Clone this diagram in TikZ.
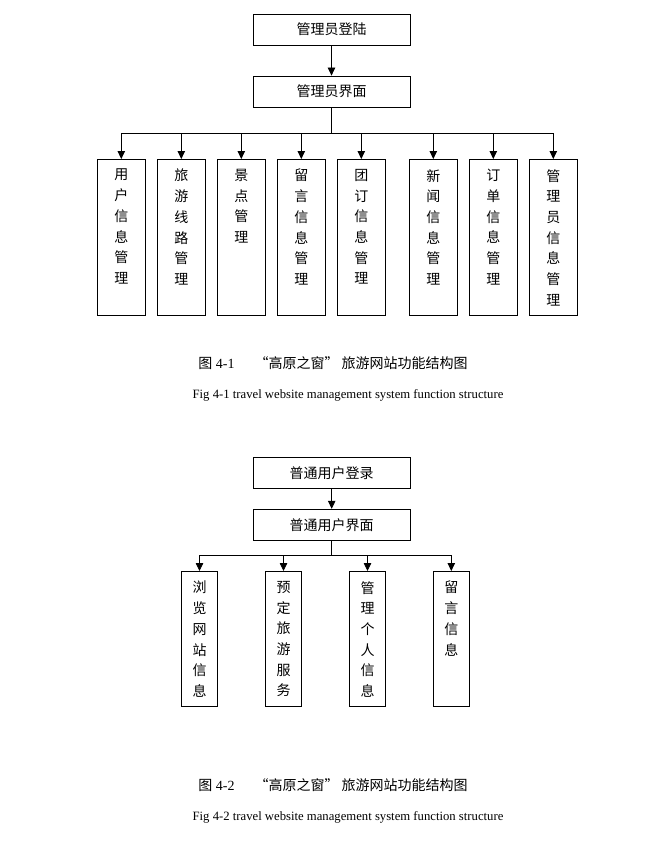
\documentclass[tikz,border=0pt]{standalone}
\usepackage{fontspec}
\setmainfont{Liberation Serif}
\newfontfamily\cjk{Noto Sans CJK SC}
\usetikzlibrary{arrows.meta}

\tikzset{
  topbox/.style={draw, line width=0.8pt, minimum width=157pt, minimum height=31pt, inner sep=0pt, font=\cjk\fontsize{14}{16}\selectfont},
  colbox/.style={draw, line width=0.8pt, minimum width=48pt, minimum height=156pt, anchor=north, inner sep=0pt},
  smallbox/.style={colbox, minimum width=36pt, minimum height=135pt},
  vtext/.style={anchor=north, align=center, inner sep=0pt, yshift=-10pt, font=\cjk\fontsize{14}{20.7}\selectfont},
  arr/.style={-{Triangle[width=7.5pt,length=8pt]}, line width=0.8pt},
  captext/.style={inner sep=0pt, font=\fontsize{14}{16}\selectfont},
  ecaptext/.style={inner sep=0pt, font=\fontsize{12.7}{14}\selectfont},
}

\begin{document}
\begin{tikzpicture}[x=1pt,y=-1pt]
\useasboundingbox (0,0) rectangle (666,848);

% 管理员
\node[topbox] (login) at (331.5,29.5) {管理员登陆};
\node[topbox] (admin) at (331.5,91.5) {管理员界面};
\draw[arr] (login) -- (admin);
\coordinate (bus1) at (331.5,133);

\node[colbox, label={[vtext]north:用\\户\\信\\息\\管\\理}] (yhgl) at (121.3,159) {};
\node[colbox, label={[vtext]north:旅\\游\\线\\路\\管\\理}] (lygl) at (181.3,159) {};
\node[colbox, label={[vtext]north:景\\点\\管\\理}] (jdgl) at (241.3,159) {};
\node[colbox, label={[vtext]north:留\\言\\信\\息\\管\\理}] (lygl2) at (301.3,159) {};
\node[colbox, label={[vtext]north:团\\订\\信\\息\\管\\理}] (tdgl) at (361.3,159) {};
\node[colbox, label={[vtext]north:新\\闻\\信\\息\\管\\理}] (xwgl) at (433.3,159) {};
\node[colbox, label={[vtext]north:订\\单\\信\\息\\管\\理}] (ddgl) at (493.3,159) {};
\node[colbox, label={[vtext]north:管\\理\\员\\信\\息\\管\\理}] (glygl) at (553.3,159) {};

\draw[line width=0.8pt] (admin) -- (bus1);
\draw[line width=0.8pt] (yhgl |- bus1) -- (glygl |- bus1);
\foreach \n in {yhgl,lygl,jdgl,lygl2,tdgl,xwgl,ddgl,glygl}
  \draw[arr] (\n |- bus1) -- (\n);

\node[captext] (cap1) at (333,362.7) {{\cjk 图} 4-1\hspace{20pt}{\cjk “高原之窗” 旅游网站功能结构图}};
\node[ecaptext] (ecap1) at (348,395) {Fig 4-1 travel website management system function structure};

% 普通用户
\node[topbox] (ulogin) at (331.7,472.8) {普通用户登录};
\node[topbox] (user) at (331.7,524.7) {普通用户界面};
\draw[arr] (ulogin) -- (user);
\coordinate (bus2) at (331.7,555);

\node[smallbox, label={[vtext]north:浏\\览\\网\\站\\信\\息}] (llwz) at (199.5,571) {};
\node[smallbox, label={[vtext]north:预\\定\\旅\\游\\服\\务}] (ydly) at (283.5,571) {};
\node[smallbox, label={[vtext]north:管\\理\\个\\人\\信\\息}] (glgr) at (367.5,571) {};
\node[smallbox, label={[vtext]north:留\\言\\信\\息}] (lyxx) at (451.3,571) {};

\draw[line width=0.8pt] (user) -- (bus2);
\draw[line width=0.8pt] (llwz |- bus2) -- (lyxx |- bus2);
\foreach \n in {llwz,ydly,glgr,lyxx}
  \draw[arr] (\n |- bus2) -- (\n);

\node[captext] (cap2) at (333,785) {{\cjk 图} 4-2\hspace{20pt}{\cjk “高原之窗” 旅游网站功能结构图}};
\node[ecaptext] (ecap2) at (348,817) {Fig 4-2 travel website management system function structure};
\end{tikzpicture}
\end{document}
